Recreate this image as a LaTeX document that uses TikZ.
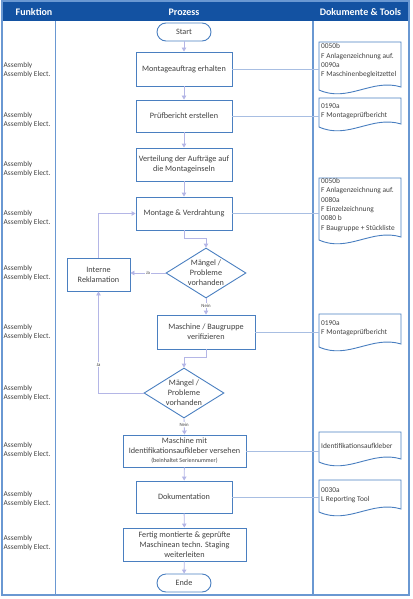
\documentclass[tikz,border=0pt]{standalone}
\usepackage{fontspec}
\setmainfont{Carlito}
\usetikzlibrary{shapes.geometric,arrows.meta,calc}
\definecolor{hdr}{HTML}{1352A2}
\definecolor{frm}{HTML}{6A98D2}
\definecolor{bx}{HTML}{4A7FC0}
\definecolor{arrc}{HTML}{B4B6E6}
\definecolor{lnk}{HTML}{A8BEE2}
\definecolor{txt}{HTML}{404040}
\newcommand\docoutline[2]{\draw[docshape] (319,#1) -- (401,#1) -- (401,#2-3) .. controls (372,#2-12) and (348,#2+13) .. (319,#2) -- cycle;}
\begin{document}
\begin{tikzpicture}[x=1pt,y=-1pt,
 proc/.style={draw=bx,line width=0.9pt,rectangle,inner sep=0pt,align=center,font=\fontsize{8.2}{9.8}\selectfont,text=txt},
 term/.style={proc,rounded corners=9pt,minimum width=54pt,minimum height=18pt},
 dec/.style={draw=bx,line width=0.9pt,diamond,inner sep=0pt,minimum width=80pt,minimum height=50pt},
 flow/.style={draw=arrc,line width=0.9pt,-{Triangle[width=4.5pt,length=4pt]}},
 link/.style={draw=lnk,line width=0.8pt},
 doctxt/.style={anchor=west,inner sep=2pt,align=left,font=\fontsize{7.4}{9.3}\selectfont,text=txt},
 role/.style={anchor=west,inner sep=0pt,align=left,font=\fontsize{7.4}{8.3}\selectfont,text=txt},
 hd/.style={text=white,inner sep=0pt,font=\fontsize{10}{12}\selectfont\bfseries},
 lbl/.style={fill=white,inner sep=0.8pt,font=\fontsize{4.8}{5}\selectfont,text=txt},
 dectext/.style={align=center,font=\fontsize{8.2}{10}\selectfont,text=txt},
 docshape/.style={draw=bx,line width=0.9pt}]
\useasboundingbox (0,0) rectangle (412,599);
% header and frame
\fill[hdr] (2,1) rectangle (409,21);
\draw[frm,line width=1.5pt] (2,1) rectangle (409,595);
\draw[frm,line width=1.5pt] (55.5,21) -- (55.5,595);
\draw[frm,line width=1.5pt] (312.8,21) -- (312.8,595);
\node[hd] (h1) at (34,12) {Funktion};
\node[hd] (h2) at (184,12) {Prozess};
\node[hd] (h3) at (360.5,12) {Dokumente \& Tools};
% roles
\foreach \y [count=\i] in {70,120,169,218,273,332,393,450,499,543}
  \node[role] (r\i) at (3.5,\y) {Assembly\\Assembly Elect.};
% process nodes
\node[term] (start) at (184,32) {Start};
\node[proc,minimum width=96pt,minimum height=34pt] (n1) at (184,69) {Montageauftrag erhalten};
\node[proc,minimum width=96pt,minimum height=32pt] (n2) at (184,116) {Prüfbericht erstellen};
\node[proc,minimum width=96pt,minimum height=33pt] (n3) at (184,164.5) {Verteilung der Aufträge auf\\die Montageinseln};
\node[proc,minimum width=96pt,minimum height=33pt] (n4) at (184,213.5) {Montage \& Verdrahtung};
\node[dec,label={[dectext]center:{Mängel /\\Probleme\\vorhanden}}] (d1) at (206,273) {};
\node[proc,minimum width=63pt,minimum height=33pt] (rek) at (98.5,274.5) {Interne\\Reklamation};
\node[proc,minimum width=98pt,minimum height=34pt] (n5) at (206,332) {Maschine / Baugruppe\\verifizieren};
\node[dec,label={[dectext]center:{Mängel /\\Probleme\\vorhanden}}] (d2) at (184,393) {};
\node[proc,minimum width=123pt,minimum height=32pt] (n6) at (184.5,451) {Maschine mit\\Identifikationsaufkleber versehen\\[-0.5pt]{\fontsize{6}{7}\selectfont (beinhaltet Seriennummer)}};
\node[proc,minimum width=96pt,minimum height=32pt] (n7) at (184,497) {Dokumentation};
\node[proc,minimum width=123pt,minimum height=33pt] (n8) at (184.5,544.5) {Fertig montierte \& geprüfte\\Maschinean techn. Staging\\weiterleiten};
\node[term] (ende) at (184,583) {Ende};
% documents
\docoutline{42}{90}
\docoutline{98}{127}
\docoutline{178}{240}
\docoutline{314}{347}
\docoutline{432}{462}
\docoutline{480}{512}
\node[doctxt] (doc1) at (319,61) {0050b\\F Anlagenzeichnung auf.\\0090a\\F Maschinenbegleitzettel};
\node[doctxt] (doc2) at (319,111) {0190a\\F Montageprüfbericht};
\node[doctxt] (doc3) at (319,205) {0050b\\F Anlagenzeichnung auf.\\0080a\\F Einzelzeichnung\\0080 b\\F Baugruppe + Stückliste};
\node[doctxt] (doc4) at (319,328.5) {0190a\\F Montageprüfbericht};
\node[doctxt] (doc5) at (319,446) {Identifikationsaufkleber};
\node[doctxt] (doc6) at (319,495) {0030a\\L Reporting Tool};
% links to documents
\draw[link] (n1.east) -- (n1.east -| doc1.west);
\draw[link] (n2.east) -- (n2.east -| doc2.west);
\draw[link] (n4.east) -- (n4.east -| doc3.west);
\draw[link] (n5.east) -- (n5.east -| doc4.west);
\draw[link] (n6.east) -- (n6.east -| doc5.west);
\draw[link] (n7.east) -- (n7.east -| doc6.west);
% flow
\draw[flow] (start) -- (n1);
\draw[flow] (n1) -- (n2);
\draw[flow] (n2) -- (n3);
\draw[flow] (n3) -- (n4);
\draw[flow] (n4.south) -- ++(0,8) -| (d1.north);
\draw[flow] (d1.west) -- node[lbl,pos=0.5] (ja1) {Ja} (d1.west -| rek.east);
\draw[flow] (rek.north) |- (n4.west);
\draw[flow] (d1.south) -- node[lbl,pos=0.45] (nein1) {Nein} (n5.north);
\draw[flow] (n5.south) -- ++(0,8) -| (d2.north);
\draw[flow] (d2.west) -| node[lbl,pos=0.64] (ja2) {Ja} (rek.south);
\draw[flow] (d2.south) -- node[lbl,pos=0.4] (nein2) {Nein} (n6.north);
\draw[flow] (n6) -- (n7);
\draw[flow] (n7) -- (n8);
\draw[flow] (n8) -- (ende);
\end{tikzpicture}
\end{document}
